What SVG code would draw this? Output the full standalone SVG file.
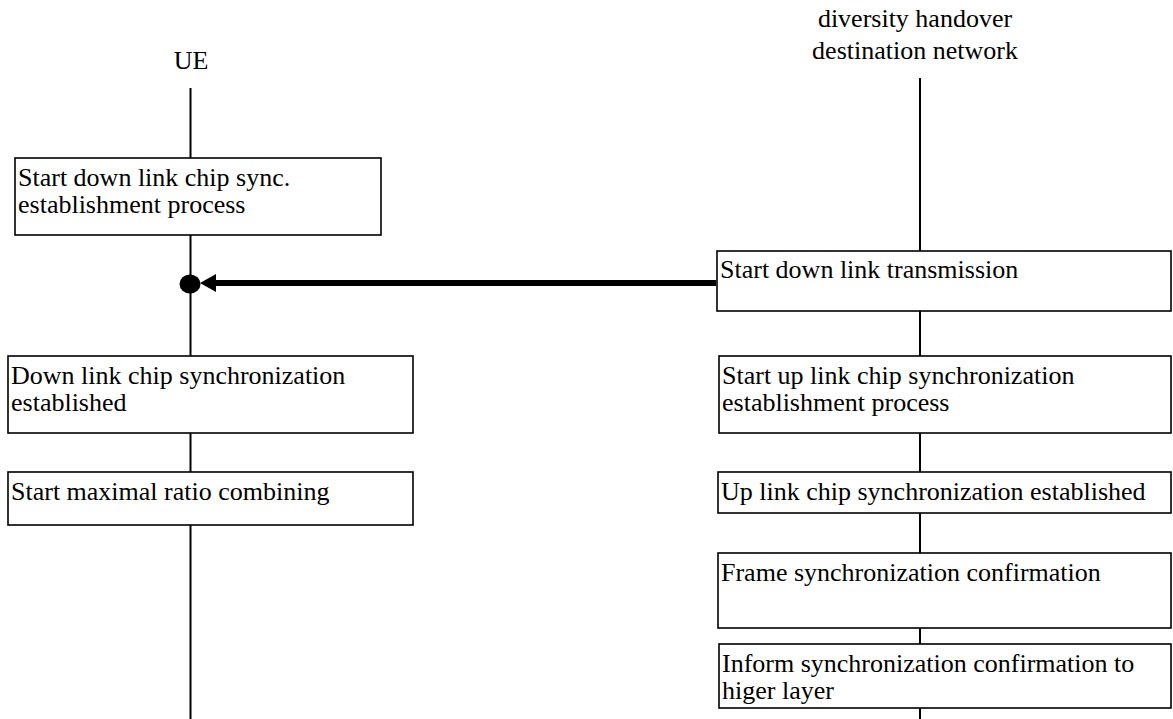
<svg xmlns="http://www.w3.org/2000/svg" width="1173" height="719" viewBox="0 0 1173 719">
<style>
text{font-family:"Liberation Serif","Times New Roman",serif;font-size:26px;fill:#000}
.box{fill:#fff;stroke:#000;stroke-width:1.6}
.life{stroke:#000;stroke-width:2;fill:none}
.c{text-anchor:middle}
</style>
<rect width="1173" height="719" fill="#fff"/>
<g id="lifelines">
<line class="life" x1="190.5" y1="88" x2="190.5" y2="719"/>
<line class="life" x1="920" y1="78" x2="920" y2="719"/>
</g>
<g id="ue"><text class="c" x="191" y="69">UE</text></g>
<g id="network"><text class="c" x="915" y="27">diversity handover</text><text class="c" x="915" y="59">destination network</text></g>
<g id="connectors">
<line x1="212" y1="283" x2="716" y2="283" stroke="#000" stroke-width="6"/>
<polygon points="200,283 216,274 216,292" fill="#000"/>
<ellipse cx="190" cy="284" rx="10.5" ry="9.5" fill="#000"/>
</g>
<g id="n1"><rect class="box" x="15" y="158" width="366" height="77"/><text x="18" y="186">Start down link chip sync.</text><text x="18" y="213">establishment process</text></g>
<g id="n2"><rect class="box" x="8" y="356" width="405" height="77"/><text x="11" y="384">Down link chip synchronization</text><text x="11" y="411">established</text></g>
<g id="n3"><rect class="box" x="8" y="472" width="405" height="53"/><text x="11" y="500">Start maximal ratio combining</text></g>
<g id="n4"><rect class="box" x="717" y="251" width="454" height="60"/><text x="720" y="278">Start down link transmission</text></g>
<g id="n5"><rect class="box" x="719" y="356" width="452" height="77"/><text x="722" y="384">Start up link chip synchronization</text><text x="722" y="411">establishment process</text></g>
<g id="n6"><rect class="box" x="718" y="472" width="453" height="41"/><text x="721" y="500">Up link chip synchronization established</text></g>
<g id="n7"><rect class="box" x="718" y="553" width="453" height="75"/><text x="721" y="581">Frame synchronization confirmation</text></g>
<g id="n8"><rect class="box" x="719" y="644" width="452" height="64"/><text x="722" y="672">Inform synchronization confirmation to</text><text x="722" y="699">higer layer</text></g>
</svg>
